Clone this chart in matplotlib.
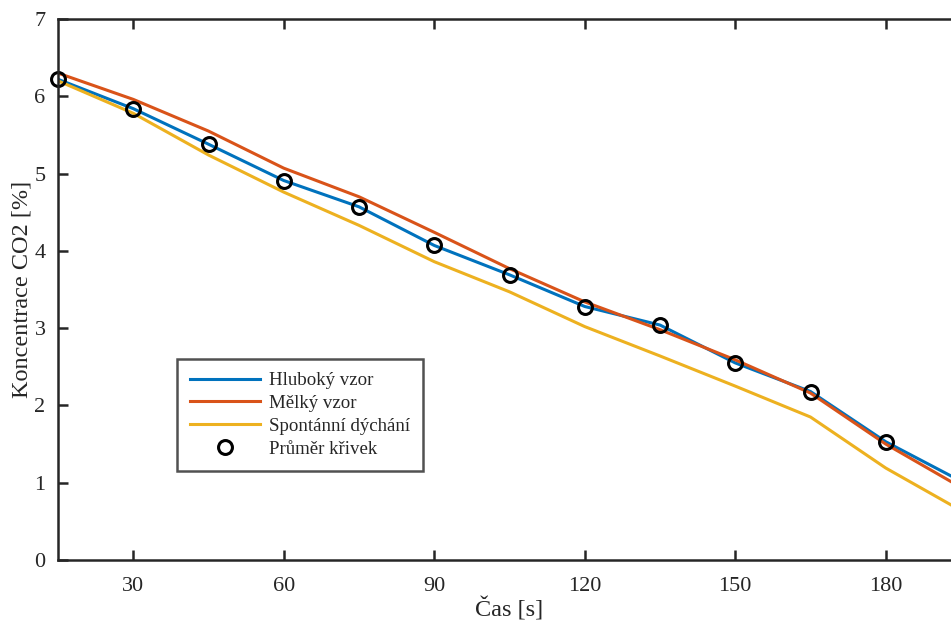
import matplotlib
matplotlib.use("Agg")
import matplotlib.pyplot as plt

plt.rcParams['font.family'] = ['Liberation Serif', 'DejaVu Serif']

# Time points [s]
cas = [15, 30, 45, 60, 75, 90, 105, 120, 135, 150, 165, 180, 195]

# CO2 concentration [%] for each breathing pattern
hluboky = [6.22, 5.84, 5.38, 4.91, 4.57, 4.07, 3.69, 3.28, 3.04, 2.55, 2.18, 1.53, 1.02]
melky = [6.30, 5.96, 5.55, 5.07, 4.70, 4.24, 3.77, 3.34, 2.98, 2.59, 2.16, 1.50, 0.94]
spontanni = [6.20, 5.78, 5.24, 4.76, 4.33, 3.86, 3.47, 3.02, 2.64, 2.25, 1.85, 1.19, 0.64]

# Average of the curves (markers)
cas_prumer = [15, 30, 45, 60, 75, 90, 105, 120, 135, 150, 165, 180]
prumer = [6.23, 5.84, 5.38, 4.91, 4.57, 4.07, 3.69, 3.28, 3.04, 2.55, 2.18, 1.53]

xticks = [30, 60, 90, 120, 150, 180]
yticks = [0, 1, 2, 3, 4, 5, 6, 7]

fig = plt.figure(figsize=(9.51, 6.21), dpi=100)
ax = fig.add_axes([58 / 951, 61 / 621, 903 / 951, 541 / 621])

ax.plot(cas, hluboky, color='#0072BD', lw=2.2, label='Hluboký vzor')
ax.plot(cas, melky, color='#D95319', lw=2.2, label='Mělký vzor')
ax.plot(cas, spontanni, color='#EDB120', lw=2.2, label='Spontánní dýchání')
ax.plot(cas_prumer, prumer, linestyle='none', marker='o', markersize=10,
        markerfacecolor='none', markeredgecolor='black', markeredgewidth=2.2,
        label='Průměr křivek', clip_on=False)

ax.set_xlim(15, 195)
ax.set_ylim(0, 7)
ax.set_xticks(xticks)
ax.set_yticks(yticks)

for s in ax.spines.values():
    s.set_linewidth(1.8)
    s.set_color('#262626')
ax.tick_params(direction='in', length=7, width=1.8, color='#262626',
               top=True, right=True, labelsize=16, labelcolor='#262626')
ax.tick_params(axis='x', pad=12)
ax.tick_params(axis='y', pad=9)

ax.set_xlabel('Čas [s]', fontsize=17.5, color='#262626', labelpad=1)
ax.set_ylabel('Koncentrace CO2 [%]', fontsize=17.5, color='#262626', labelpad=1)

leg = ax.legend(loc='lower left', bbox_to_anchor=(0.132, 0.1645), fontsize=13.6,
                frameon=True, fancybox=False, edgecolor='#262626',
                handlelength=3.7, borderpad=0.7, labelspacing=0.3,
                handletextpad=0.45, borderaxespad=0)
leg.get_frame().set_linewidth(1.8)
for t in leg.get_texts():
    t.set_color('#262626')

fig.savefig('out.png', dpi=100)
